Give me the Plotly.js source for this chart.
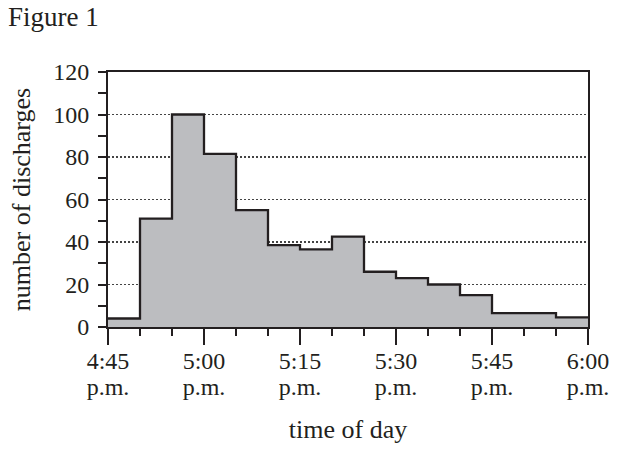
<!DOCTYPE html>
<html>
<head>
<meta charset="utf-8">
<script src="https://cdn.plot.ly/plotly-3.0.1.min.js"></script>
<style>
  html, body { margin: 0; padding: 0; background: #fff; }
  #mGraph { width: 624px; height: 451px; }
</style>
</head>
<body>
<div id="mGraph"></div>
<script>
// bins are 5 minutes wide, minutes counted from 4:45 p.m.
var binStart = [0, 5, 10, 15, 20, 25, 30, 35, 40, 45, 50, 55, 60, 65, 70];
var binWidth = 5;
var discharges = [4, 51, 100, 81.5, 55, 38.5, 36.5, 42.5, 26, 23, 20, 15, 6.5, 6.5, 4.5];

var tickMinutes = [0, 15, 30, 45, 60, 75];
var tickTimes = ['4:45', '5:00', '5:15', '5:30', '5:45', '6:00'];
var tickPeriod = ['p.m.', 'p.m.', 'p.m.', 'p.m.', 'p.m.', 'p.m.'];

var ink = '#231f20';

function doFirst() {
    // step outline: one point per bin start plus the end of the last bin
    var xs = binStart.slice();
    xs.push(binStart[binStart.length - 1] + binWidth);
    var ys = discharges.slice();
    ys.push(discharges[discharges.length - 1]);

    var trace = {
        x: xs,
        y: ys,
        type: 'scatter',
        mode: 'lines',
        line: {shape: 'hv', color: ink, width: 2.3},
        fill: 'tozeroy',
        fillcolor: '#bcbdc0',
        hoverinfo: 'skip',
        showlegend: false
    };

    // draws nothing, only keeps the second row of tick labels (p.m.) alive
    var periodRow = {
        x: xs,
        y: ys,
        xaxis: 'x2',
        type: 'scatter',
        mode: 'none',
        hoverinfo: 'skip',
        showlegend: false
    };

    var layout = {
        width: 624,
        height: 451,
        margin: {l: 108, r: 36, t: 72, b: 124},
        paper_bgcolor: '#fff',
        plot_bgcolor: '#fff',
        font: {family: '"Liberation Serif", "Times New Roman", serif', color: ink, size: 24},
        title: {
            text: 'Figure 1',
            font: {size: 27, color: ink},
            xref: 'container', x: 8 / 624, xanchor: 'left',
            yref: 'container', y: 1 - 17 / 451, yanchor: 'middle'
        },
        xaxis: {
            range: [0, 75],
            tickmode: 'array',
            tickvals: tickMinutes,
            ticktext: tickTimes,
            ticks: 'outside', ticklen: 16, tickwidth: 2, tickcolor: ink,
            minor: {tick0: 0, dtick: 5, ticks: 'outside', ticklen: 7, tickwidth: 2, tickcolor: ink, showgrid: false},
            showline: true, linewidth: 2, linecolor: ink, mirror: true,
            showgrid: false, zeroline: false,
            ticklabelstandoff: -5,
            tickfont: {size: 24},
            fixedrange: true
        },
        xaxis2: {
            overlaying: 'x',
            anchor: 'y',
            side: 'bottom',
            range: [0, 75],
            tickmode: 'array',
            tickvals: tickMinutes,
            ticktext: tickPeriod,
            ticks: '',
            ticklabelstandoff: 43,
            showline: false, showgrid: false, zeroline: false,
            tickfont: {size: 24},
            title: {text: 'time of day', font: {size: 26}, standoff: 20},
            fixedrange: true
        },
        yaxis: {
            range: [0, 120],
            tick0: 0, dtick: 20,
            ticks: 'outside', ticklen: 8, tickwidth: 2, tickcolor: ink,
            minor: {tick0: 0, dtick: 10, ticks: 'outside', ticklen: 8, tickwidth: 2, tickcolor: ink, showgrid: false},
            showline: true, linewidth: 2, linecolor: ink, mirror: true,
            showgrid: true, gridcolor: '#444', gridwidth: 1.8, griddash: '2px,2px',
            zeroline: false,
            ticklabelstandoff: 4,
            tickfont: {size: 24},
            title: {text: 'number of discharges', font: {size: 26}, standoff: 15},
            fixedrange: true
        }
    };

    Plotly.newPlot('mGraph', [trace, periodRow], layout, {displayModeBar: false, staticPlot: true});
}
window.addEventListener('load', doFirst, false);
</script>
</body>
</html>
